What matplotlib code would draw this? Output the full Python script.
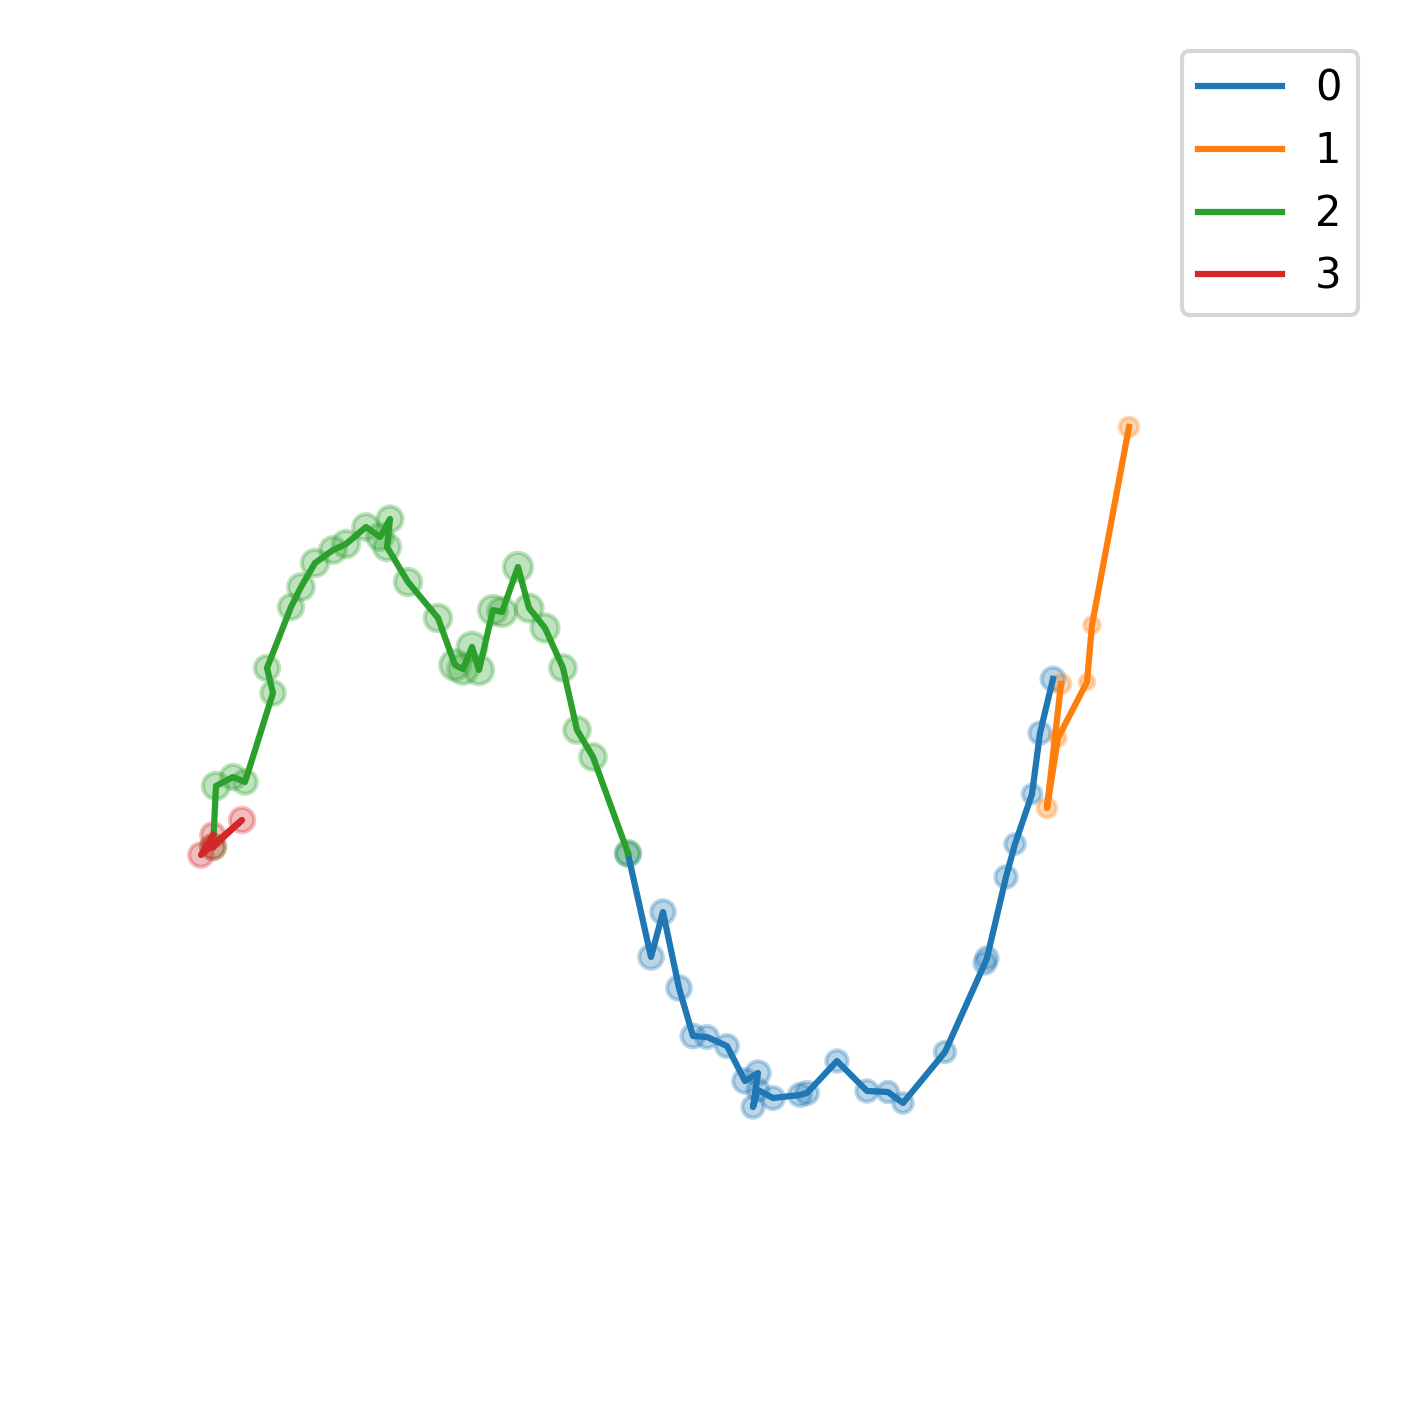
#!/usr/bin/env python3
"""Segmented trajectory with per-point markers, one colour per segment"""

import matplotlib

matplotlib.use("Agg")
import matplotlib.pyplot as plt

LABELS = ["0", "1", "2", "3"]
COLORS = ["tab:blue", "tab:orange", "tab:green", "tab:red"]

# segment 0
x0 = [5.98, 6.21, 6.33, 6.49, 6.63, 6.77, 6.97, 7.15, 7.28, 7.23, 7.28, 7.43,
      7.70, 7.77, 8.07, 8.37, 8.58, 8.73, 9.15, 9.55, 9.57, 9.76, 9.85, 10.02,
      10.10, 10.23]
y0 = [5.26, 4.23, 4.68, 3.92, 3.44, 3.43, 3.34, 2.99, 3.07, 2.73, 2.90, 2.82,
      2.85, 2.87, 3.19, 2.89, 2.88, 2.77, 3.28, 4.17, 4.22, 5.03, 5.36, 5.86,
      6.47, 7.01]
s0 = [32, 32, 32, 32, 30, 28, 28, 32, 32, 26, 26, 28,
      28, 28, 26, 26, 24, 22, 24, 26, 26, 26, 22, 20,
      26, 30]

# segment 1
x1 = [10.31, 10.17, 10.28, 10.57, 10.62, 10.99]
y1 = [6.96, 5.72, 6.42, 6.98, 7.55, 9.53]
s1 = [20, 20, 14, 12, 14, 20]

# segment 2
x2 = [1.83, 1.86, 2.03, 2.15, 2.43, 2.37, 2.61, 2.71, 2.85, 3.03, 3.16, 3.36,
      3.50, 3.60, 3.57, 3.78, 4.08, 4.25, 4.33, 4.42, 4.49, 4.63, 4.72, 4.88,
      4.99, 5.15, 5.33, 5.47, 5.63, 5.98]
y2 = [5.33, 5.94, 6.03, 5.98, 6.87, 7.12, 7.73, 7.93, 8.17, 8.30, 8.36, 8.53,
      8.43, 8.61, 8.33, 7.98, 7.62, 7.15, 7.11, 7.33, 7.10, 7.70, 7.68, 8.13,
      7.72, 7.52, 7.12, 6.50, 6.23, 5.27]
s2 = [34, 40, 34, 32, 32, 34, 34, 38, 40, 38, 40, 38,
      38, 36, 40, 40, 40, 50, 50, 48, 46, 46, 46, 46,
      42, 42, 38, 38, 38, 34]

# segment 3
x3 = [1.83, 2.12, 1.71, 1.83]
y3 = [5.33, 5.60, 5.25, 5.45]
s3 = [32, 34, 32, 32]

SEGMENTS = [(x0, y0, s0), (x1, y1, s1), (x2, y2, s2), (x3, y3, s3)]


def main() -> None:
    fig = plt.figure(figsize=(1409 / 300, 1410 / 300), dpi=300)
    ax = fig.add_axes([30 / 1409, 30 / 1410, 1349 / 1409, 1350 / 1410])
    for (xs, ys, ss), label, color in zip(SEGMENTS, LABELS, COLORS):
        ax.plot(xs, ys, color=color, lw=1.5, label=label)
        ax.scatter(xs, ys, s=ss, color=color, alpha=0.3)
    ax.set_xlim(0, 13.49)
    ax.set_ylim(0, 13.50)
    ax.axis("off")
    ax.legend(loc="upper right")
    fig.savefig("out.png", dpi=300)
    plt.close(fig)


if __name__ == "__main__":
    main()
